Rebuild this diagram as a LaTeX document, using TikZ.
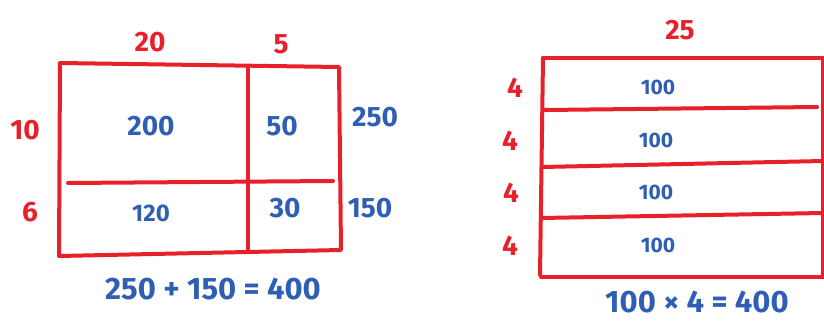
\documentclass[tikz,border=0pt]{standalone}
\usepackage{fontspec}
\setmainfont{Fira Sans}
\definecolor{pen}{HTML}{E8202A}
\definecolor{ink}{HTML}{2F5FB5}
\begin{document}
\begin{tikzpicture}[x=1pt,y=-1pt,
  box/.style={draw=pen,line width=4pt,line cap=round,line join=round},
  rlab/.style={text=pen,font=\fontsize{28}{28}\selectfont\bfseries,inner sep=0pt},
  blab/.style={text=ink,font=\fontsize{28}{28}\selectfont\bfseries,inner sep=0pt},
  mlab/.style={text=ink,font=\fontsize{24}{24}\selectfont\bfseries,inner sep=0pt},
  slab/.style={text=ink,font=\fontsize{21}{21}\selectfont\bfseries,inner sep=0pt},
  eqlab/.style={text=ink,font=\fontsize{31}{31}\selectfont\bfseries,inner sep=0pt}]
\useasboundingbox (0,0) rectangle (824,323);
% left area model
\coordinate (ltl) at (60,63);
\coordinate (ltr) at (339,67);
\coordinate (lbl) at (59,256);
\coordinate (lbr) at (341,250);
\draw[box] (ltl) -- (ltr) -- (lbr) -- (lbl) -- cycle;
\coordinate (mt) at (248,66);
\coordinate (mb) at (248,250);
\draw[box] (mt) -- (mb);
\coordinate (hl) at (68,183);
\coordinate (hr) at (333,181);
\draw[box] (hl) -- (hr);
\node[rlab] (l20) at (150,42) {20};
\node[rlab] (l5) at (281,44) {5};
\node[rlab] (l10) at (25,130) {10};
\node[rlab] (l6) at (30,212) {6};
\node[blab] (c200) at (151,126) {200};
\node[blab] (c50) at (282,126) {50};
\node[mlab] (c120) at (151,213) {120};
\node[blab] (c30) at (285,208) {30};
\node[blab] (s250) at (375,117) {250};
\node[blab] (s150) at (370,208) {150};
\node[eqlab] (eq1) at (213,289) {250 + 150 = 400};
% right area model
\coordinate (rtl) at (543,58);
\coordinate (rtr) at (823,58);
\coordinate (rbl) at (540,275);
\coordinate (rbr) at (823,277);
\draw[box] (rtl) -- (rtr) -- (rbr);
\draw[box] (rtl) -- (rbl);
\draw[box] (541,277) -- (rbr);
\coordinate (d1l) at (545,110);
\coordinate (d1r) at (817,107);
\draw[box] (d1l) -- (d1r);
\coordinate (d2l) at (542,167);
\coordinate (d2r) at (823,161);
\draw[box] (d2l) -- (d2r);
\coordinate (d3l) at (541,218);
\coordinate (d3r) at (823,213);
\draw[box] (d3l) -- (d3r);
\node[rlab] (r25) at (680,30) {25};
\node[rlab] (r4a) at (515,88) {4};
\node[rlab] (r4b) at (510,141) {4};
\node[rlab] (r4c) at (511,193) {4};
\node[rlab] (r4d) at (510,246) {4};
\node[slab] (v1) at (658,87) {100};
\node[slab] (v2) at (656,140) {100};
\node[slab] (v3) at (656,192) {100};
\node[slab] (v4) at (658,245) {100};
\node[eqlab] (eq2) at (697,302) {100 × 4 = 400};
\end{tikzpicture}
\end{document}
